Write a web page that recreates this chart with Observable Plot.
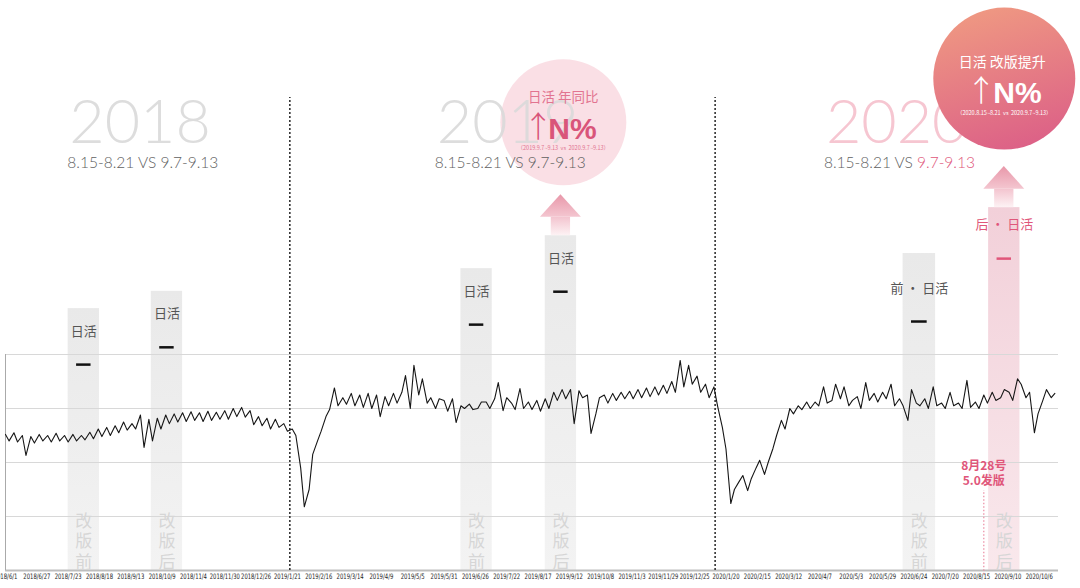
<!DOCTYPE html>
<html lang="zh">
<head>
<meta charset="utf-8">
<script src="https://cdn.jsdelivr.net/npm/d3@7"></script>
<script src="https://cdn.jsdelivr.net/npm/@observablehq/plot@0.6"></script>
<style>
  html, body { margin: 0; padding: 0; background: #fff; }
  #chart { width: 1080px; height: 588px; overflow: hidden; }
</style>
</head>
<body>
<div id="chart"></div>
<script>
// ================= DATA =================
// daily-active trend, two readings per week (weekday / weekend), starting 2018-06-01
const dauStart = "2018-06-01";
const dauValues = [
  252,240, 255,238, 250,213, 248,236, 252,240, 250,238, 254,240, 250,238, 252,240, 250,242,
  256,244, 262,248, 265,250, 268,255, 275,260, 272,262, 288,228, 280,240, 282,262, 288,272,
  290,275, 292,276, 294,278, 292,276, 295,278, 293,280, 296,280, 300,285, 302,284, 296,270,
  285,268, 282,262, 280,265, 272,258, 262,250, 190,118, 150,215, 240,258, 285,298, 338,305,
  320,308, 328,305, 325,302, 328,300, 325,285, 322,305, 328,310, 330,361, 300,380, 325,355,
  310,320, 300,318, 315,295, 318,274, 305,300, 308,298, 300,312, 312,300, 318,348, 296,320,
  310,298, 337,300, 312,298, 315,295, 318,300, 330,315, 335,318, 335,272, 333,320, 325,254,
  290,320, 325,310, 328,315, 330,318, 332,318, 335,320, 338,322, 340,325, 343,328, 350,330,
  389,340, 380,345, 360,330, 345,320, 340,305, 265,225, 124,150, 165,176, 148,170, 190,204,
  178,200, 226,250, 278,262, 300,290, 305,298, 312,300, 312,305, 340,310, 315,345, 318,340,
  305,315, 322,300, 348,315, 328,312, 330,318, 345,305, 318,305, 278,335, 310,305, 318,300,
  340,305, 310,300, 330,305, 310,300, 352,302, 312,300, 325,310, 330,315, 320,335, 330,315,
  355,345, 320,330, 255,290, 315,335, 320,328
];
const tickLabels = [
  "2018/6/1","2018/6/27","2018/7/23","2018/8/18","2018/9/13","2018/10/9","2018/11/4","2018/11/30",
  "2018/12/26","2019/1/21","2019/2/16","2019/3/14","2019/4/9","2019/5/5","2019/5/31","2019/6/26",
  "2019/7/22","2019/8/17","2019/9/12","2019/10/8","2019/11/3","2019/11/29","2019/12/25","2020/1/20",
  "2020/2/15","2020/3/12","2020/4/7","2020/5/3","2020/5/29","2020/6/24","2020/7/20","2020/8/15",
  "2020/9/10","2020/10/6"
];
const yearLabels = ["2018", "2019", "2020"];
const compareBefore = "8.15-8.21";
const compareAfter = "9.7-9.13";
const periodNames = ["改版前", "改版后", "改版前", "改版后", "改版前", "改版后"];
const periodTitles = ["日活", "日活", "日活", "日活", "前 · 日活", "后 · 日活"];
const periodStart = ["2018-07-23", "2018-09-30", "2019-06-14", "2019-08-23", "2020-06-15", "2020-08-25"];
const periodEnd   = ["2018-08-18", "2018-10-26", "2019-07-10", "2019-09-18", "2020-07-12", "2020-09-20"];
const periodDau   = [485, 517, 559, 620, 587, 672];
const dividerDates = ["2019-01-23", "2020-01-11"];
const releaseDate = "2020-08-21";
const releaseLabel = "8月28号\n5.0发版";
const badgeTitles = ["日活 年同比", "日活 改版提升"];
const badgeValues = ["N%", "N%"];
const badgeNotes = ["（2019.9.7~9.13  vs  2020.9.7~9.13）", "（2020.8.15~8.21  vs  2020.9.7~9.13）"];

// ================= LAYOUT / STYLE =================
const PINK = "#e0567a";
const CJK = "'Noto Sans CJK SC', 'Noto Sans', sans-serif";
const yearAnchor = ["2018-07-24", "2019-05-25", "2020-04-12"];
const headingLevel = 828, subLevel = 754;
const badgeAnchor = ["2019-09-07", "2020-09-07"];
const badgeLevel = [830, 911];
const badgeR = [63, 71];

const D = s => new Date(s + "T00:00:00Z");
const addDays = (d, n) => new Date(+d + n * 864e5);
const parseTick = s => { const [y, m, d] = s.split("/").map(Number); return new Date(Date.UTC(y, m - 1, d)); };

const t0 = D(dauStart);
const dau = dauValues.map((v, i) => ({date: addDays(t0, Math.floor(i / 2) * 7 + (i % 2) * 3), value: v}));
const ticks = tickLabels.map(parseTick);
const tickText = new Map(ticks.map((t, i) => [+t, tickLabels[i]]));

const bars = periodNames.map((name, i) => {
  const start = D(periodStart[i]), end = D(periodEnd[i]);
  return {name, title: periodTitles[i], start, end, mid: new Date((+start + +end) / 2),
          top: periodDau[i], idx: i, year: 2018 + Math.floor(i / 2), after: i % 2 === 1};
});
const barsGrey = bars.filter(d => !(d.year === 2020 && d.after));
const barsPink = bars.filter(d => d.year === 2020 && d.after);
const arrowBars = bars.filter(d => d.after && d.year >= 2019);
const shaftH = 34, headH = 42;
const heads = arrowBars.flatMap(d => [
  {k: d.idx, x: addDays(d.start, -4), base: d.top + shaftH, tip: d.top + shaftH},
  {k: d.idx, x: d.mid, base: d.top + shaftH, tip: d.top + shaftH + headH},
  {k: d.idx, x: addDays(d.end, 4), base: d.top + shaftH, tip: d.top + shaftH}
]);

const years = yearLabels.map((y, i) => ({y, x: D(yearAnchor[i])}));
const b19 = {x: D(badgeAnchor[0]), y: badgeLevel[0]};
const b20 = {x: D(badgeAnchor[1]), y: badgeLevel[1]};
const YEARFONT = "Lato, 'Noto Sans', sans-serif";
const BOLDFONT = "'Liberation Sans', Arial, sans-serif";

const chart = Plot.plot({
  width: 1080,
  height: 588,
  marginLeft: 5,
  marginRight: 22,
  marginTop: 354,
  marginBottom: 18,
  x: {type: "utc", domain: [D("2018-06-01"), D("2020-10-22")], axis: null},
  y: {domain: [0, 400], axis: null},
  style: {fontFamily: CJK, background: "#fff", overflow: "visible"},
  marks: [
    // period bars
    Plot.rect(barsGrey, {x1: "start", x2: "end", y1: 0, y2: "top", fill: "url(#gGrey)"}),
    Plot.rect(barsPink, {x1: "start", x2: "end", y1: 0, y2: "top", fill: "url(#gPinkBar)"}),
    // arrows
    Plot.rect(arrowBars, {x1: d => addDays(d.start, 5), x2: d => addDays(d.end, -5), y1: "top", y2: d => d.top + shaftH, fill: "url(#gShaft)"}),
    Plot.areaY(heads, {x: "x", y1: "base", y2: "tip", z: "k", fill: "url(#gHead)", curve: "linear"}),
    // grid
    Plot.ruleY([100, 200, 300, 400], {stroke: "#d8d8d8", strokeWidth: 1}),
    Plot.ruleY([0], {stroke: "#bdbdbd", strokeWidth: 2}),
    Plot.ruleX([D("2018-06-01")], {y1: 0, y2: 400, stroke: "#aaa", strokeWidth: 1}),
    // vertical labels in bars
    Plot.text(bars, {x: "mid", y: 0, text: d => d.name.split("").join("\n"), lineAnchor: "bottom",
      lineHeight: 1.2, fontSize: 17, fill: "#d6d6d6", dy: -3}),
    // dividers
    Plot.ruleX(dividerDates.map(D), {y1: 0, y2: 876, stroke: "#333", strokeWidth: 1.6, strokeDasharray: "2,2"}),
    Plot.ruleX([D(releaseDate)], {y1: -8, y2: 148, stroke: "#ec8aa2", strokeWidth: 1.2, strokeDasharray: "1.5,2"}),
    Plot.text([releaseLabel], {x: D(releaseDate), y: 181, text: d => d, fill: PINK, fontSize: 12,
      fontWeight: "bold", lineHeight: 1.2}),
    // trend line
    Plot.line(dau, {x: "date", y: "value", stroke: "#161616", strokeWidth: 1.1}),
    // bar titles and value dashes
    Plot.text(bars.filter(d => d.year < 2020), {x: "mid", y: "top", text: "title", dy: 23, fontSize: 13, fill: "#555"}),
    Plot.text(bars.filter(d => d.year === 2020 && !d.after), {x: "mid", y: "top", text: "title", dy: 35, fontSize: 13, fill: "#555"}),
    Plot.text(barsPink, {x: "mid", y: "top", text: "title", dy: 17, fontSize: 13, fill: PINK}),
    Plot.ruleY(bars.filter(d => d.year < 2020), {x1: d => addDays(d.start, 7), x2: d => addDays(d.end, -7), y: "top", dy: 56, stroke: "#111", strokeWidth: 2.5}),
    Plot.ruleY(bars.filter(d => d.year === 2020 && !d.after), {x1: d => addDays(d.start, 7), x2: d => addDays(d.end, -7), y: "top", dy: 68, stroke: "#111", strokeWidth: 2.5}),
    Plot.ruleY(barsPink, {x1: d => addDays(d.start, 7), x2: d => addDays(d.end, -7), y: "top", dy: 51, stroke: PINK, strokeWidth: 2.5}),
    // badge 2019 circle (under its year heading)
    Plot.dot([b19], {x: "x", y: "y", r: badgeR[0], fill: "#fadbe2", fillOpacity: 0.9, stroke: "none"}),
    // year headings
    Plot.text(years.slice(0, 2), {x: "x", y: headingLevel, text: "y", textAnchor: "start", fontSize: 61,
      fontWeight: 300, fontFamily: YEARFONT, fill: "#d9d9d9", fillOpacity: 0.9}),
    Plot.text(years.slice(2), {x: "x", y: headingLevel, text: "y", textAnchor: "start", fontSize: 61,
      fontWeight: 300, fontFamily: YEARFONT, fill: "#f6c6d1"}),
    Plot.text(years, {x: "x", y: subLevel, text: () => compareBefore + " VS " + compareAfter, textAnchor: "start",
      fontSize: 15.5, fontWeight: 300, fontFamily: YEARFONT, fill: "#5f5f5f", dx: -2}),
    // badge 2019 texts
    Plot.text([b19], {x: "x", y: "y", text: () => badgeTitles[0], dy: -25, fontSize: 13.5, fill: "#e27490"}),
    Plot.text([b19], {x: "x", y: "y", text: () => "↑", dy: 5, dx: -25, fontSize: 30, fontWeight: 300, fill: "#d9557a"}),
    Plot.text([b19], {x: "x", y: "y", text: () => badgeValues[0], dy: 7, dx: -15, textAnchor: "start",
      fontSize: 30, fontWeight: "bold", fontFamily: BOLDFONT, fill: "#d9557a"}),
    Plot.text([b19], {x: "x", y: "y", text: () => badgeNotes[0], dy: 26, fontSize: 5.5, fill: "#e27490"}),
    // badge 2020
    Plot.dot([b20], {x: "x", y: "y", r: badgeR[1], fill: "url(#gCircle)", stroke: "none"}),
    Plot.text([b20], {x: "x", y: "y", text: () => badgeTitles[1], dy: -16, dx: -2, fontSize: 14, fill: "#fff"}),
    Plot.text([b20], {x: "x", y: "y", text: () => "↑", dy: 13, dx: -23, fontSize: 30, fontWeight: 300, fill: "#fff"}),
    Plot.text([b20], {x: "x", y: "y", text: () => badgeValues[1], dy: 15, dx: -11, textAnchor: "start",
      fontSize: 30, fontWeight: "bold", fontFamily: BOLDFONT, fill: "#fff"}),
    Plot.text([b20], {x: "x", y: "y", text: () => badgeNotes[1], dy: 35, fontSize: 5.5, fill: "#fff"}),
    // x axis
    Plot.axisX({ticks, tickFormat: d => tickText.get(+d) ?? "", tickSize: 0, tickPadding: 3,
      fontSize: 7.5, fill: "#222", fontFamily: "'Liberation Sans Narrow', 'DejaVu Sans Condensed', 'Liberation Sans', sans-serif"})
  ]
});

document.getElementById("chart").appendChild(chart);

// gradients
const svg = d3.select(chart);
const defs = svg.insert("defs", ":first-child");
function lg(id, stops, dir = [0, 0, 0, 1]) {
  const g = defs.append("linearGradient").attr("id", id)
    .attr("x1", dir[0]).attr("y1", dir[1]).attr("x2", dir[2]).attr("y2", dir[3]);
  stops.forEach(([o, c, a = 1]) => g.append("stop").attr("offset", o).attr("stop-color", c).attr("stop-opacity", a));
}
lg("gGrey", [[0, "#e9e9e9"], [1, "#f3f3f3"]]);
lg("gPinkBar", [[0, "#f2d0d9"], [1, "#f9e8ec"]]);
lg("gShaft", [[0, "#f3c4cf"], [1, "#fdf2f4"]]);
lg("gHead", [[0, "#e897a9"], [1, "#f4c6d0"]]);
lg("gCircle", [[0, "#ef9882"], [1, "#dc6087"]], [0.35, 0, 0.65, 1]);

const fullCompare = compareBefore + " VS " + compareAfter;
const texts = svg.selectAll("text").nodes();
// 2020 subtitle: second date range in pink
const cmpNodes = texts.filter(n => n.textContent === fullCompare);
const last = cmpNodes[cmpNodes.length - 1];
if (last) {
  const t = d3.select(last); t.text(null);
  t.append("tspan").text(compareBefore + " VS ");
  t.append("tspan").attr("fill", PINK).text(compareAfter);
}
// compact tick labels like the original
texts.filter(n => tickLabels.includes(n.textContent)).forEach(n => {
  n.setAttribute("textLength", (n.textContent.length * 3.0).toFixed(1));
  n.setAttribute("lengthAdjust", "spacingAndGlyphs");
});
</script>
</body>
</html>
